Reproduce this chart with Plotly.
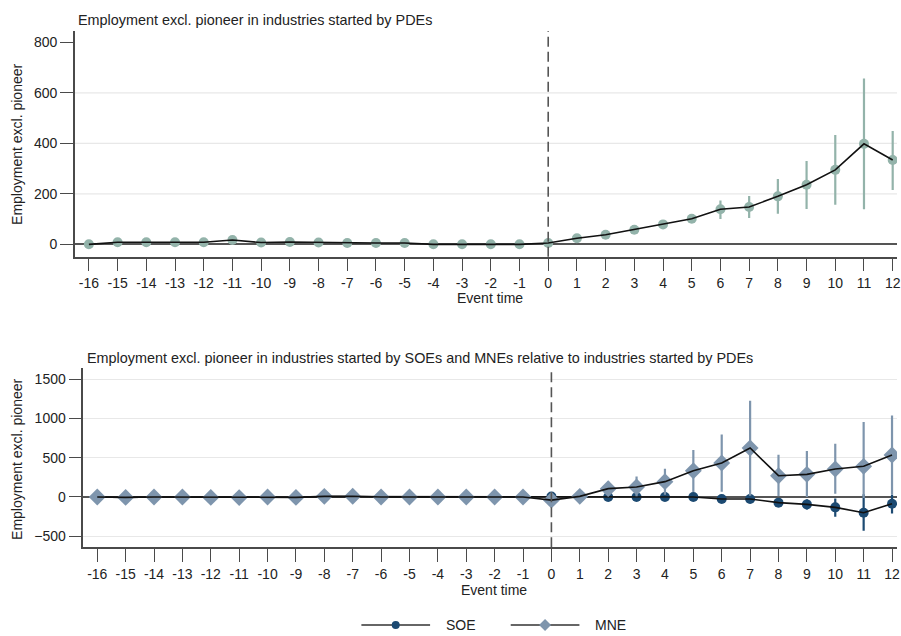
import plotly.graph_objects as go

# ---------------- data ----------------
event_time = list(range(-16, 13))
tick_labels = [str(t) for t in event_time]

# top panel: PDE
pde_est = [0, 8, 8, 8, 8, 17, 7, 9, 7, 5, 5, 5, 0, 0, 0, 0, 5,
           24, 38, 58, 79, 101, 139, 148, 190, 236, 295, 398, 334]
pde_lo = [-2, 4, 4, 4, 4, 11, 3, 5, 3, 2, 2, 2, -2, -2, -2, -2, 2,
          18, 30, 48, 68, 84, 100, 104, 121, 140, 157, 139, 215]
pde_hi = [2, 12, 12, 12, 12, 23, 11, 13, 11, 8, 8, 8, 2, 2, 2, 2, 8,
          30, 46, 68, 90, 120, 174, 191, 259, 330, 433, 657, 449]

# bottom panel: SOE and MNE relative to PDE
soe_est = [0, -5, 0, 0, -3, -5, 0, -3, 5, 5, 0, 0, 0, 0, 0, 0, 5,
           5, 0, 0, 0, 0, -25, -25, -72, -94, -132, -200, -85]
soe_lo = [-10, -15, -10, -10, -13, -15, -10, -13, -5, -5, -10, -10, -10, -10, -10, -10, -10,
          -8, -12, -12, -14, -16, -42, -45, -105, -160, -250, -430, -210]
soe_hi = [10, 5, 10, 10, 7, 5, 10, 7, 15, 15, 10, 10, 10, 10, 10, 10, 20,
          18, 12, 12, 14, 16, -8, -5, -40, -30, -20, 35, 29]

mne_est = [0, -5, 0, 0, -5, -8, 0, -5, 8, 10, 0, 0, 0, 0, 0, 0, -40,
           8, 106, 127, 195, 334, 432, 623, 271, 288, 356, 390, 534]
mne_lo = [-12, -17, -12, -12, -17, -20, -12, -17, -4, -2, -12, -12, -12, -12, -12, -12, -70,
          -10, 15, 10, 30, 63, 67, 17, 8, 0, 42, -13, 29]
mne_hi = [12, 7, 12, 12, 7, 4, 12, 7, 20, 22, 12, 12, 12, 12, 12, 12, -10,
          26, 198, 262, 360, 598, 796, 1225, 538, 585, 678, 954, 1038]

top_yticks = [0, 200, 400, 600, 800]
bot_yticks = [-500, 0, 500, 1000, 1500]

# ---------------- styles ----------------
W, H = 901, 636
FONT = "Liberation Sans, Arial, sans-serif"
PDE_COL = "#93b3aa"
SOE_COL = "#1c4a72"
MNE_COL = "#7e95ad"
AX_COL = "#4a4a4a"
GRID_COL = "#e8e8e8"


def px(x):
    return x / W


def py(y):
    return 1 - y / H


def err(est, lo, hi):
    return dict(type="data", symmetric=False,
                array=[h - e for e, h in zip(est, hi)],
                arrayminus=[e - l for e, l in zip(est, lo)])


fig = go.Figure()

# ---- top panel ----
fig.add_trace(go.Scatter(
    x=event_time, y=pde_est, mode="markers", xaxis="x", yaxis="y",
    marker=dict(color=PDE_COL, size=10, symbol="circle"),
    error_y=dict(**err(pde_est, pde_lo, pde_hi), color=PDE_COL, thickness=2.2, width=0),
    showlegend=False, name="PDE"))
fig.add_trace(go.Scatter(
    x=event_time, y=pde_est, mode="lines", xaxis="x", yaxis="y",
    line=dict(color="#111111", width=1.6), showlegend=False, hoverinfo="skip"))

# ---- bottom panel ----
fig.add_trace(go.Scatter(
    x=event_time, y=soe_est, mode="markers", xaxis="x2", yaxis="y2",
    marker=dict(color=SOE_COL, size=10, symbol="circle"),
    error_y=dict(**err(soe_est, soe_lo, soe_hi), color=SOE_COL, thickness=2.2, width=0),
    showlegend=False, name="SOE"))
fig.add_trace(go.Scatter(
    x=event_time, y=soe_est, mode="lines", xaxis="x2", yaxis="y2",
    line=dict(color="#111111", width=1.6), showlegend=False, hoverinfo="skip"))
fig.add_trace(go.Scatter(
    x=event_time, y=mne_est, mode="markers", xaxis="x2", yaxis="y2",
    marker=dict(color=MNE_COL, size=13, symbol="diamond"),
    error_y=dict(**err(mne_est, mne_lo, mne_hi), color=MNE_COL, thickness=2.2, width=0),
    showlegend=False, name="MNE"))
fig.add_trace(go.Scatter(
    x=event_time, y=mne_est, mode="lines", xaxis="x2", yaxis="y2",
    line=dict(color="#111111", width=1.6), showlegend=False, hoverinfo="skip"))

axis_common = dict(
    ticks="outside", ticklen=13, tickwidth=1.3, tickcolor=AX_COL,
    showline=True, linecolor=AX_COL, linewidth=1.5,
    tickfont=dict(family=FONT, size=14, color="#222222"),
    ticklabeloverflow="allow",
)

fig.update_layout(
    width=W, height=H,
    margin=dict(l=0, r=0, t=0, b=0),
    paper_bgcolor="white", plot_bgcolor="white",
    font=dict(family=FONT, size=14, color="#222222"),
    showlegend=False,
    xaxis=dict(axis_common, domain=[px(75.3), 1], anchor="y",
               range=[-16.485, 12.15], tickmode="array",
               tickvals=event_time, ticktext=tick_labels,
               showgrid=False, zeroline=False),
    yaxis=dict(axis_common, domain=[py(256.7), py(31)], anchor="x",
               range=[-49, 845], tickmode="array", tickvals=top_yticks,
               showgrid=False, zeroline=True, zerolinecolor="#555555",
               zerolinewidth=1.5),
    xaxis2=dict(axis_common, domain=[px(83.7), 1], anchor="y2",
                range=[-16.49, 12.175], tickmode="array",
                tickvals=event_time, ticktext=tick_labels,
                showgrid=False, zeroline=False),
    yaxis2=dict(axis_common, domain=[py(547.3), py(368.3)], anchor="x2",
                range=[-640, 1637], tickmode="array", tickvals=bot_yticks,
                showgrid=True, gridcolor=GRID_COL, gridwidth=1.3,
                zeroline=True, zerolinecolor="#555555", zerolinewidth=1.5),
)

shapes = []
# top panel gridlines (Stata omits the one at the top tick)
for v in top_yticks[1:-1]:
    shapes.append(dict(type="line", xref="x domain", yref="y", x0=0, x1=1,
                       y0=v, y1=v, line=dict(color=GRID_COL, width=1.3), layer="below"))
# vertical reference lines at event time 0
shapes.append(dict(type="line", xref="x", yref="y domain", x0=0, x1=0, y0=0, y1=1,
                   line=dict(color="#555555", width=1.6, dash="10px,5px")))
shapes.append(dict(type="line", xref="x2", yref="y2 domain", x0=0, x1=0, y0=0, y1=1,
                   line=dict(color="#555555", width=1.6, dash="10px,5px")))

# custom legend (line + marker samples)
ly = py(625)
for x0, x1 in [(363, 432), (513, 582)]:
    shapes.append(dict(type="line", xref="paper", yref="paper",
                       x0=px(x0), x1=px(x1), y0=ly, y1=ly,
                       line=dict(color="#333333", width=1.6)))
r = 4
shapes.append(dict(type="circle", xref="paper", yref="paper",
                   x0=px(397.5 - r), x1=px(397.5 + r), y0=py(625 + r), y1=py(625 - r),
                   fillcolor=SOE_COL, line=dict(color=SOE_COL, width=0)))
d = 6
cx, cy = 547.5, 625
shapes.append(dict(type="path", xref="paper", yref="paper",
                   path=f"M {px(cx)},{py(cy - d)} L {px(cx + d)},{py(cy)} L {px(cx)},{py(cy + d)} L {px(cx - d)},{py(cy)} Z",
                   fillcolor=MNE_COL, line=dict(color=MNE_COL, width=0)))
fig.update_layout(shapes=shapes)

ann = []
def add_text(text, x, y, xanchor="left", yanchor="middle", size=14, angle=0):
    ann.append(dict(text=text, x=px(x), y=py(y), xref="paper", yref="paper",
                    xanchor=xanchor, yanchor=yanchor, showarrow=False,
                    textangle=angle, font=dict(family=FONT, size=size, color="#222222")))

add_text("Employment excl. pioneer in industries started by PDEs", 76, 20, size=14.4)
add_text("Employment excl. pioneer in industries started by SOEs and MNEs relative to industries started by PDEs",
         85, 358, size=14.4)
add_text("Employment excl. pioneer", 17, 144, xanchor="center", angle=-90)
add_text("Employment excl. pioneer", 17, 459, xanchor="center", angle=-90)
add_text("Event time", 492.5, 298, xanchor="center")
add_text("Event time", 496.7, 590, xanchor="center")
add_text("SOE", 445.5, 625)
add_text("MNE", 595.5, 625)
fig.update_layout(annotations=ann)

fig.write_html(
    "out.html",
    config={"displayModeBar": False},
    post_script="document.body.style.margin='0';document.body.style.padding='0';"
                "document.body.style.overflow='hidden';"
                "document.documentElement.style.overflow='hidden';",
)
